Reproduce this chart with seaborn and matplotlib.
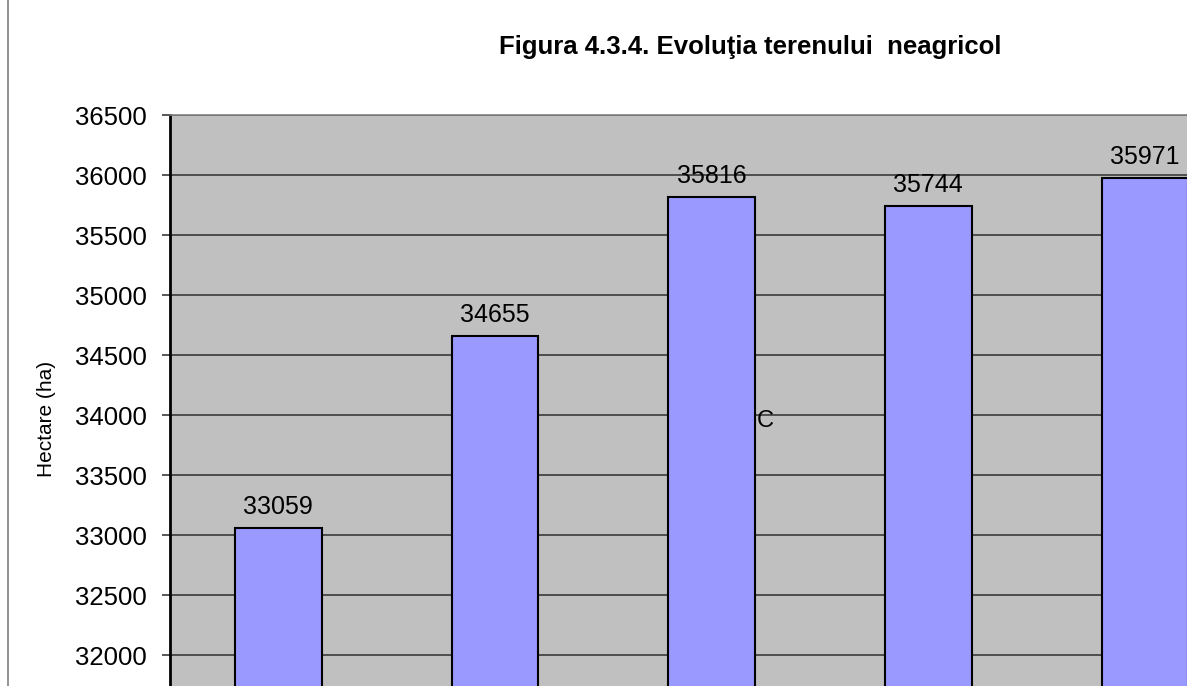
import matplotlib
matplotlib.use("Agg")
import matplotlib.pyplot as plt
import seaborn as sns
import pandas as pd
from matplotlib.lines import Line2D

# data (x labels are cut off in the reference)
years = ["2004", "2005", "2006", "2007", "2008"]
hectare = [33059, 34655, 35816, 35744, 35971]
y_ticks = [32000, 32500, 33000, 33500, 34000, 34500, 35000, 35500, 36000, 36500]

df = pd.DataFrame({"an": years, "ha": hectare})

sns.set_style("white")
plt.rcParams["font.family"] = ["Liberation Sans", "DejaVu Sans"]
plt.rcParams["text.color"] = "black"
plt.rcParams["ytick.labelcolor"] = "black"

W, H = 1187, 686
fig = plt.figure(figsize=(W / 100, H / 100), dpi=100)
ax = fig.add_axes([170 / W, 0, 1 - 170 / W, (H - 115) / H])
ax.set_facecolor("#C0C0C0")

sns.barplot(data=df, x="an", y="ha", ax=ax, color="#9999FF", width=0.4,
            edgecolor="black", linewidth=1.5, saturation=1, zorder=3)

ax.set_ylim(31742, 36500)
ax.set_xlim(-0.5, 4.194)
ax.set_yticks(y_ticks)
ax.set_yticklabels([str(v) for v in y_ticks], fontsize=18.5, color="black")
ax.yaxis.grid(True, color="#3a3a3a", linewidth=1.2, zorder=0)
ax.set_axisbelow(True)
ax.tick_params(axis="y", length=6, width=1.2, color="#3a3a3a", pad=11, left=True)
ax.set_xticks([])
ax.set_xlabel("")
ax.set_ylabel("")

for s in ["right", "bottom"]:
    ax.spines[s].set_visible(False)
ax.spines["top"].set_color("#808080")
ax.spines["top"].set_linewidth(1.2)
ax.spines["left"].set_color("black")
ax.spines["left"].set_linewidth(2)

for i, v in enumerate(hectare):
    ax.text(i, v + 117, str(v), ha="center", va="baseline", fontsize=18, zorder=4)

# stray letter present in the original figure
ax.text(2.207, 33900, "C", ha="left", va="baseline", fontsize=17, zorder=4)

fig.text(47 / W, 1 - 418.5 / H, "Hectare (ha)", rotation=90,
         ha="center", va="center", fontsize=15)

fig.text(750 / W, 1 - 47 / H, "Figura 4.3.4. Evoluţia terenului  neagricol",
         ha="center", va="center", fontsize=18.5, fontweight="bold")

fig.add_artist(Line2D([8 / W, 8 / W], [0, 1], color="#808080", linewidth=1.2,
                      transform=fig.transFigure))

fig.savefig("out.png", dpi=100)
